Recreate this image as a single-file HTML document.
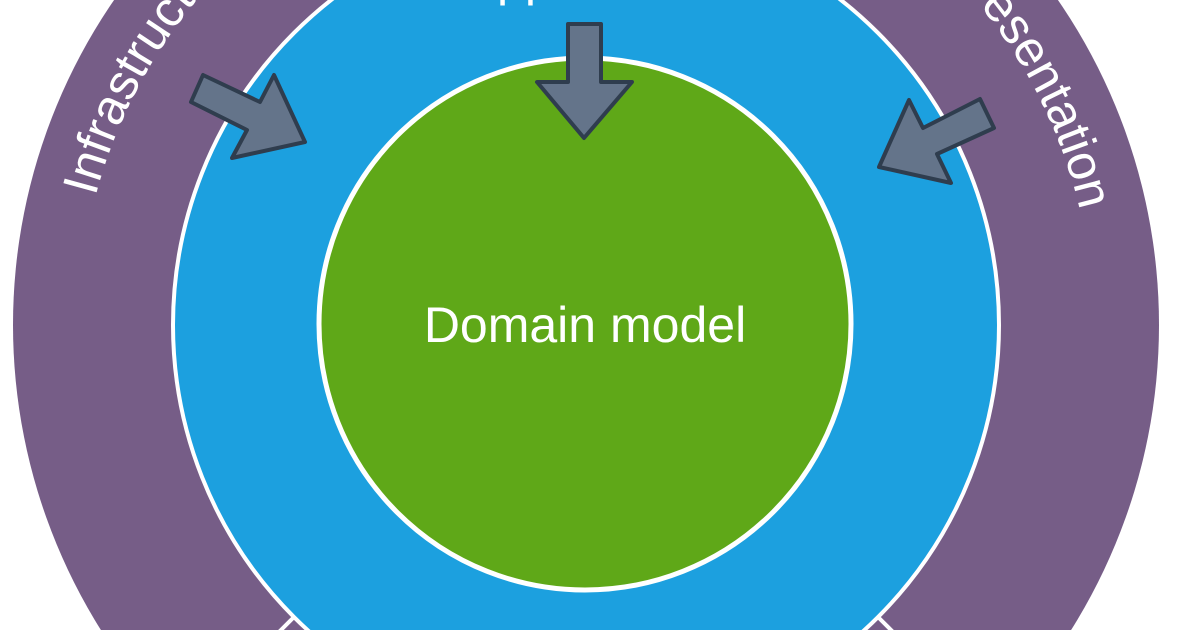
<!DOCTYPE html>
<html><head><meta charset="utf-8"><style>html,body{margin:0;padding:0;background:#fff;overflow:hidden;width:1200px;height:630px}svg{display:block}</style></head>
<body>
<svg width="1200" height="630" viewBox="0 0 1200 630" xmlns="http://www.w3.org/2000/svg" font-family="Liberation Sans, sans-serif" overflow="hidden">
<defs>
<path id="ring" d="M1093,325 A507,507 0 1 1 79,325 A507,507 0 1 1 1093,325"/>
<clipPath id="c"><rect width="1200" height="630"/></clipPath>
</defs>
<g clip-path="url(#c)">
<circle cx="586" cy="325" r="573" fill="#765d87"/>
<line x1="293" y1="618" x2="181" y2="730" stroke="#fff" stroke-width="4"/>
<line x1="879" y1="618" x2="991" y2="730" stroke="#fff" stroke-width="4"/>
<circle cx="586" cy="325" r="413" fill="#1ca0df" stroke="#fff" stroke-width="4"/>
<circle cx="585" cy="324" r="266" fill="#5fa818" stroke="#fff" stroke-width="5"/>
<text fill="#fff" font-size="50"><textPath href="#ring" startOffset="1870" text-anchor="middle">Infrastructure</textPath></text>
<text fill="#fff" font-size="50"><textPath href="#ring" startOffset="2930" text-anchor="middle">Presentation</textPath></text>
<text x="586" y="-5" fill="#fff" font-size="50" text-anchor="middle">Application</text>
<text x="585" y="342" fill="#fff" font-size="50" text-anchor="middle">Domain model</text>
<g fill="#64748a" stroke="#2f3d4e" stroke-width="4" stroke-linejoin="round">
<polygon points="203,75 260,102 274,75 305,142 232,158 247,130 191,102"/>
<polygon points="980,99 994,128 937,154 951,183 879,167 909,100 923,128"/>
<polygon points="568,24 601,24 601,82 632,82 584,138 537,82 568,82"/>
</g>
</g>
</svg>
</body></html>
